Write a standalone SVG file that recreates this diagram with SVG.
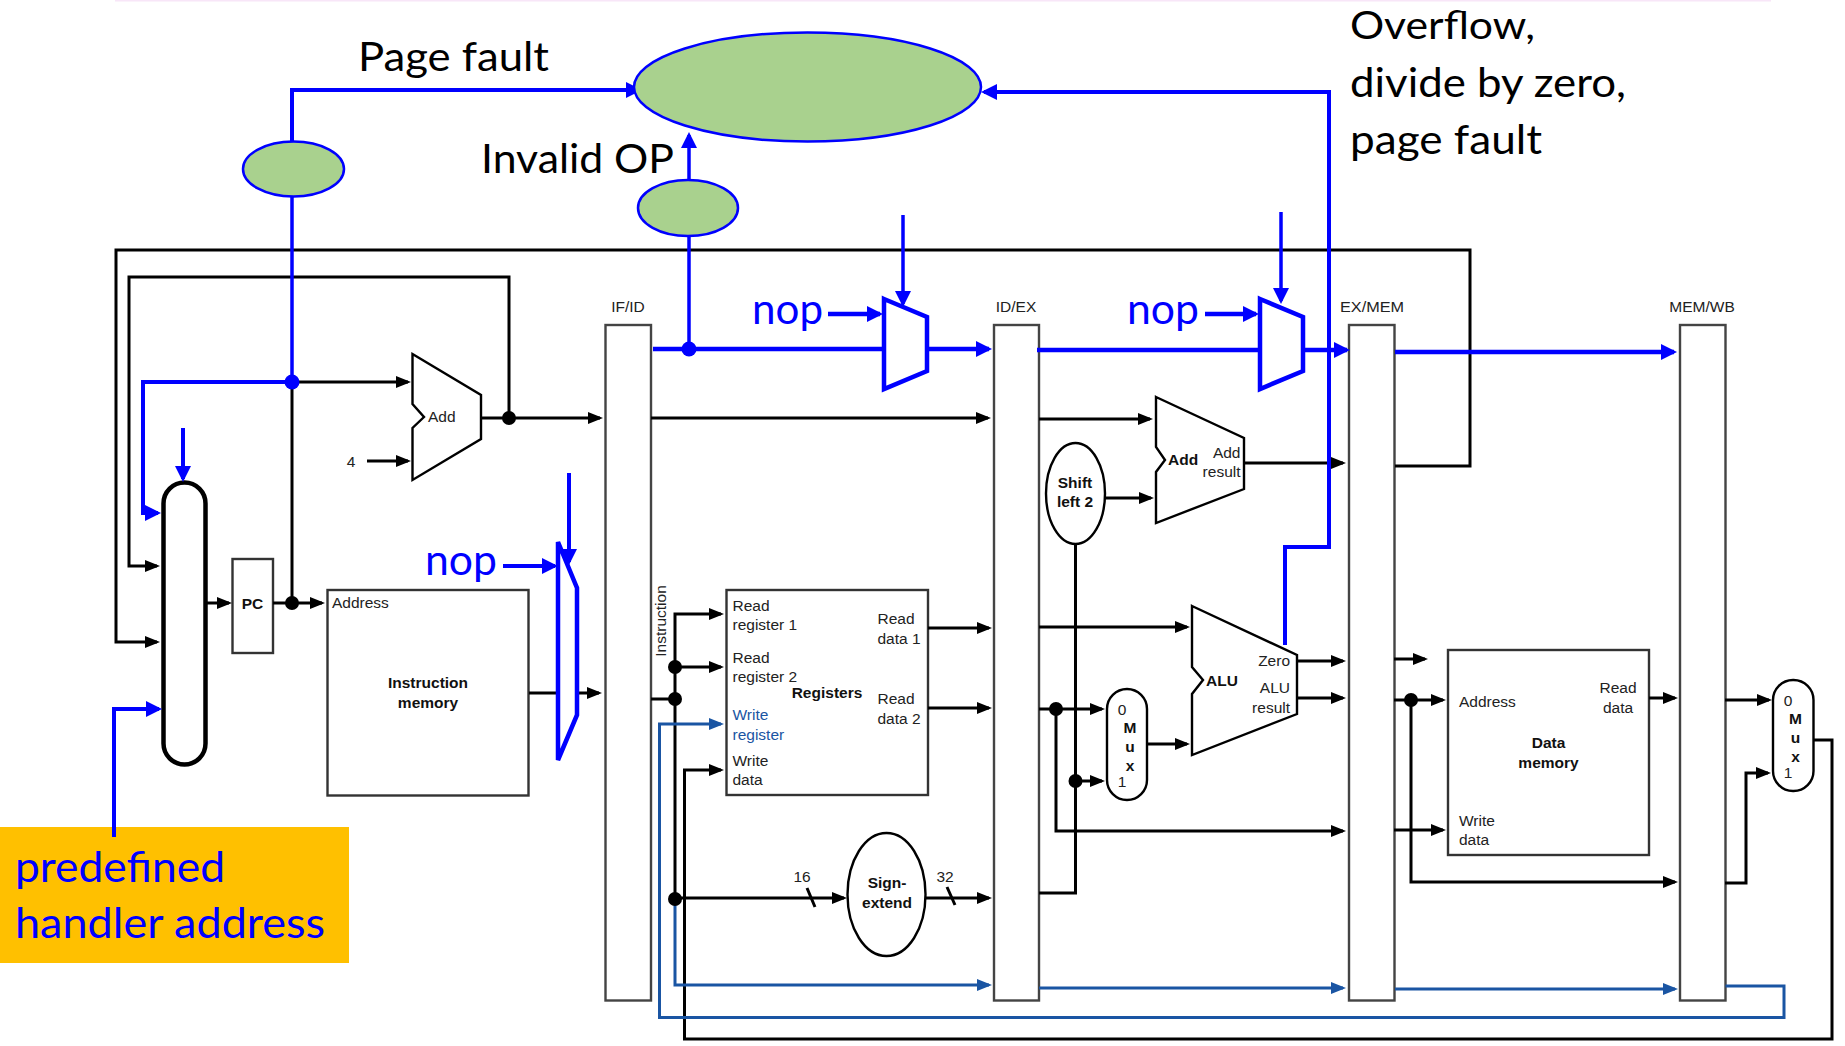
<svg xmlns="http://www.w3.org/2000/svg" width="1845" height="1046" viewBox="0 0 1845 1046">
<style>
text{font-family:"Liberation Sans",Arial,sans-serif;font-size:15.5px;fill:#222}
.bd{font-weight:bold;fill:#111}
.m{text-anchor:middle}
.e{text-anchor:end}
.big{font-family:Lato,"Open Sans",sans-serif;font-size:41px;fill:#000}
.top{font-size:39px}
.nop{font-family:Lato,"Open Sans",sans-serif;font-size:42px;fill:#00f}
.wr{fill:#1a55a3}
.box{fill:#fff;stroke:#333;stroke-width:2.4}
.mux{fill:#fff;stroke:#000;stroke-width:2.4}
.pipe{fill:#fff;stroke:#444;stroke-width:2.4}
.g{fill:#a9d18e;stroke:#00f;stroke-width:2.5}
.bm{fill:#fff;stroke:#00f;stroke-width:4.5}
.k{fill:none;stroke:#000;stroke-width:3}
.ka{fill:none;stroke:#000;stroke-width:3;marker-end:url(#ak)}
.b{fill:none;stroke:#00f;stroke-width:3.5}
.ba{fill:none;stroke:#00f;stroke-width:3.5;marker-end:url(#ab)}
.d{fill:none;stroke:#1a55a3;stroke-width:3}
.da{fill:none;stroke:#1a55a3;stroke-width:3;marker-end:url(#ad)}
.dk{fill:#000}
.db{fill:#00f}
</style>
<defs>
<marker id="ak" markerUnits="userSpaceOnUse" markerWidth="16" markerHeight="14" refX="12" refY="7" orient="auto"><path d="M0 1L15 7L0 13z" fill="#000"/></marker>
<marker id="ab" markerUnits="userSpaceOnUse" markerWidth="17" markerHeight="16" refX="13" refY="8" orient="auto"><path d="M0 0L16 8L0 16z" fill="#00f"/></marker>
<marker id="ad" markerUnits="userSpaceOnUse" markerWidth="16" markerHeight="14" refX="12" refY="7" orient="auto"><path d="M0 1L15 7L0 13z" fill="#1a55a3"/></marker>
</defs>
<rect width="1845" height="1046" fill="#fff"/>
<rect x="115" y="0" width="1656" height="1.5" fill="#f8e6f8"/>

<g id="stage-if-id"><rect class="pipe" x="605.5" y="325" width="45.5" height="675.5"/><text class="m" x="628" y="312">IF/ID</text></g>
<g id="stage-id-ex"><rect class="pipe" x="994" y="325" width="45" height="675.5"/><text class="m" x="1016" y="312">ID/EX</text></g>
<g id="stage-ex-mem"><rect class="pipe" x="1349" y="325" width="45.5" height="675.5"/><text class="m" x="1372" y="312" textLength="64" lengthAdjust="spacingAndGlyphs">EX/MEM</text></g>
<g id="stage-mem-wb"><rect class="pipe" x="1680" y="325" width="45.5" height="675.5"/><text class="m" x="1702" y="312">MEM/WB</text></g>

<g id="pc-adder"><path class="mux" d="M412.5 354L481 395V439L412.5 480V428L424 417L412.5 404z"/><text x="428" y="422">Add</text></g>
<text id="const-4" class="m" x="351" y="467">4</text>
<g id="pc"><rect class="box" x="232.5" y="559" width="40.5" height="94"/><text class="bd m" x="252.5" y="609">PC</text></g>
<g id="pc-mux"><rect x="163.5" y="482.5" width="42" height="282" rx="21" ry="21" fill="#fff" stroke="#000" stroke-width="4.5"/></g>
<g id="instruction-memory"><rect class="box" x="327.5" y="590" width="201" height="205.5"/><text x="332" y="608">Address</text><text class="bd m" x="428" y="687.5">Instruction</text><text class="bd m" x="428" y="707.5">memory</text></g>
<g id="registers"><rect class="box" x="726.5" y="590" width="201.5" height="205"/>
<text x="732.5" y="610.5">Read</text><text x="732.5" y="629.5">register 1</text><text x="732.5" y="662.5">Read</text><text x="732.5" y="681.5">register 2</text><text class="wr" x="732.5" y="719.5">Write</text><text class="wr" x="732.5" y="739.5">register</text><text x="732.5" y="765.5">Write</text><text x="732.5" y="784.5">data</text>
<text class="bd m" x="827" y="697.5">Registers</text><text x="877.5" y="623.5">Read</text><text x="877.5" y="643.5">data 1</text><text x="877.5" y="703.5">Read</text><text x="877.5" y="723.5">data 2</text></g>
<text id="instruction-label" class="m" transform="translate(665.5 621) rotate(-90)">Instruction</text>
<g id="sign-extend"><ellipse class="mux" cx="886.5" cy="894.5" rx="39" ry="61.5"/><text class="bd m" x="887" y="887.5">Sign-</text><text class="bd m" x="887" y="907.5">extend</text></g>
<g id="shift-left-2"><ellipse class="mux" cx="1075.5" cy="493.5" rx="29.5" ry="50.5"/><text class="bd m" x="1075" y="487.5">Shift</text><text class="bd m" x="1075" y="506.5">left 2</text></g>
<g id="branch-adder"><path class="mux" d="M1156 397L1244 438V489L1156 523V472L1165 460L1156 447z"/><text class="bd" x="1168" y="465">Add</text><text class="e" x="1240.5" y="457.5">Add</text><text class="e" x="1240.5" y="476.5">result</text></g>
<g id="alu-mux"><rect class="mux" x="1107" y="689" width="40" height="111" rx="20" ry="20"/><text class="m" x="1122" y="714.5">0</text><text class="bd m" x="1130" y="732.5">M</text><text class="bd m" x="1130" y="752">u</text><text class="bd m" x="1130" y="771">x</text><text class="m" x="1122" y="786.5">1</text></g>
<g id="alu"><path class="mux" d="M1192 606L1297 655V714L1192 755V694L1203 680L1192 667z"/><text class="bd" x="1206" y="686">ALU</text><text class="e" x="1290" y="665.5">Zero</text><text class="e" x="1290" y="692.5">ALU</text><text class="e" x="1290" y="712.5">result</text></g>
<g id="data-memory"><rect class="box" x="1448" y="650" width="201" height="205"/><text x="1459" y="706.5">Address</text><text class="m" x="1618" y="692.5">Read</text><text class="m" x="1618" y="712.5">data</text><text class="bd m" x="1548.5" y="747.5">Data</text><text class="bd m" x="1548.5" y="767.5">memory</text><text x="1459" y="825.5">Write</text><text x="1459" y="844.5">data</text></g>
<g id="wb-mux"><rect class="mux" x="1773" y="680" width="40.5" height="111" rx="20" ry="20"/><text class="m" x="1788" y="705.5">0</text><text class="bd m" x="1795.5" y="723.5">M</text><text class="bd m" x="1795.5" y="743">u</text><text class="bd m" x="1795.5" y="762">x</text><text class="m" x="1788" y="777.5">1</text></g>

<g id="connectors">
<path class="ka" d="M1395 466H1470V250H116V642H157"/>
<path class="ka" d="M509 418V277H129V566H157"/>
<path class="ka" d="M292 382H408"/>
<path class="k" d="M292 382V603"/>
<path class="ka" d="M367 461H408"/>
<path class="ka" d="M481 418H600"/>
<path class="ka" d="M205 603H229"/>
<path class="ka" d="M273 603H322"/>
<path class="ka" d="M529 693H599"/>
<path class="ka" d="M651 418H988"/>
<path class="ka" d="M651 699H675V614H721"/>
<path class="ka" d="M675 667H721"/>
<path class="k" d="M675 699V899"/>
<path class="ka" d="M1813 740H1832V1039H684.5V770H721"/>
<path class="ka" d="M675 898H844"/>
<path class="k" d="M807 888L815 907M947 887L955 905"/>
<path class="ka" d="M925 898H989"/>
<path class="ka" d="M928 628H989"/>
<path class="ka" d="M928 708H989"/>
<path class="ka" d="M1039 419H1150"/>
<path class="ka" d="M1105 498H1151"/>
<path class="k" d="M1075.5 544V893H1039"/>
<path class="ka" d="M1244 463H1343"/>
<path class="ka" d="M1039 627H1187"/>
<path class="ka" d="M1039 709H1102"/>
<path class="ka" d="M1056 709V831H1343"/>
<path class="ka" d="M1075.5 781H1102"/>
<path class="ka" d="M1147 744H1187"/>
<path class="ka" d="M1297 661H1343"/>
<path class="ka" d="M1297 698H1343"/>
<path class="ka" d="M1394 659H1425"/>
<path class="ka" d="M1394 700H1443"/>
<path class="ka" d="M1411 700V882H1675"/>
<path class="ka" d="M1394 830H1443"/>
<path class="ka" d="M1649 698H1675"/>
<path class="ka" d="M1725 700H1769"/>
<path class="ka" d="M1725 883H1746V773H1768"/>
<path class="da" d="M675 899V985H989"/>
<path class="da" d="M1039 988H1343"/>
<path class="da" d="M1395 989H1675"/>
<path class="da" d="M1725.5 986H1784V1017.5H659.5V724H721"/>
<path class="b" d="M292 197V382"/>
<path class="ba" d="M292 197V90H639" style="stroke-width:4"/>
<path class="ba" d="M292 382H143V513H158" style="stroke-width:4"/>
<path class="ba" d="M114 837V709H159" style="stroke-width:4"/>
<path class="ba" d="M183 428V479" style="stroke-width:4"/>
<path class="ba" d="M569 473V562" style="stroke-width:4"/>
<path class="ba" d="M503 566H555" style="stroke-width:4"/>
<path class="ba" d="M903 215V304"/>
<path class="ba" d="M1281 212V301"/>
<path class="ba" d="M828 314H880" style="stroke-width:4.5"/>
<path class="ba" d="M1205 314H1256" style="stroke-width:4.5"/>
<path class="b" d="M653 349H884" style="stroke-width:4.5"/>
<path class="ba" d="M927 349H989" style="stroke-width:4.5"/>
<path class="b" d="M1037 350H1260" style="stroke-width:4.5"/>
<path class="ba" d="M1303 350H1347" style="stroke-width:4.5"/>
<path class="ba" d="M1395 352H1674" style="stroke-width:4.5"/>
<path class="ba" d="M689 349V135"/>
<path class="ba" d="M1285 645V547H1329V92H984" style="stroke-width:4"/>
<g class="dots">
<circle class="dk" cx="292" cy="603" r="7"/><circle class="dk" cx="509" cy="418" r="7"/>
<circle class="dk" cx="675" cy="667" r="7"/><circle class="dk" cx="675" cy="699" r="7"/><circle class="dk" cx="675" cy="899" r="7"/>
<circle class="dk" cx="1056" cy="709" r="7"/><circle class="dk" cx="1075.5" cy="781" r="7"/><circle class="dk" cx="1411" cy="700" r="7"/>
<circle class="db" cx="292" cy="382" r="7.5"/><circle class="db" cx="689" cy="349" r="7.5"/>
</g>
</g>

<text id="width-16" class="m" x="802" y="882">16</text>
<text id="width-32" class="m" x="945" y="882">32</text>

<g id="exception-unit"><ellipse class="g" cx="807.5" cy="87" rx="173.5" ry="54.5"/></g>
<g id="pc-check"><ellipse class="g" cx="293.5" cy="169" rx="50.5" ry="27.5"/></g>
<g id="op-check"><ellipse class="g" cx="688" cy="208" rx="50" ry="28"/></g>
<g id="fetch-nop-mux"><path class="bm" d="M558 542L577 588V715L558 760z"/></g>
<g id="decode-nop-mux"><path class="bm" d="M884 299L927 317V371L884 389z"/></g>
<g id="execute-nop-mux"><path class="bm" d="M1260 299L1303 317V371L1260 389z"/></g>

<text class="nop" x="425" y="575" textLength="72" lengthAdjust="spacingAndGlyphs">nop</text>
<text class="nop" x="752" y="324" textLength="71" lengthAdjust="spacingAndGlyphs">nop</text>
<text class="nop" x="1127" y="324" textLength="72" lengthAdjust="spacingAndGlyphs">nop</text>

<text class="big" x="358" y="71" textLength="191" lengthAdjust="spacingAndGlyphs">Page fault</text>
<text class="big" x="481" y="173" textLength="193" lengthAdjust="spacingAndGlyphs">Invalid OP</text>
<text class="big top" x="1350" y="39" textLength="185" lengthAdjust="spacingAndGlyphs">Overflow,</text>
<text class="big" x="1350" y="97" textLength="276" lengthAdjust="spacingAndGlyphs">divide by zero,</text>
<text class="big" x="1350" y="154" textLength="192" lengthAdjust="spacingAndGlyphs">page fault</text>

<g id="handler-address"><rect x="0" y="827" width="349" height="136" fill="#ffc000"/>
<path class="b" d="M114 827V837" style="stroke-width:4"/>
<text class="nop" x="15" y="882" textLength="210" lengthAdjust="spacingAndGlyphs">predefined</text>
<text class="nop" x="15" y="938" textLength="310" lengthAdjust="spacingAndGlyphs">handler address</text></g>
</svg>
